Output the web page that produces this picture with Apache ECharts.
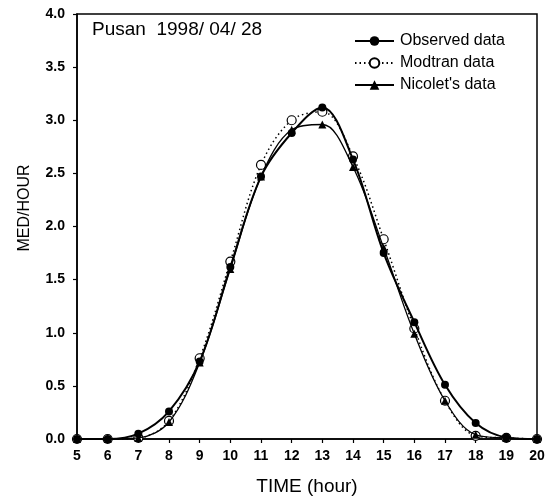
<!DOCTYPE html>
<html>
<head>
<meta charset="utf-8">
<script src="https://cdn.jsdelivr.net/npm/echarts@6/dist/echarts.min.js"></script>
<style>html,body{margin:0;padding:0;background:#fff;}#c{width:557px;height:498px;}</style>
</head>
<body>
<div id="c"></div>
<script>
var hours = [5,6,7,8,9,10,11,12,13,14,15,16,17,18,19,20];
var observed = [0,0,0.05,0.26,0.73,1.62,2.47,2.88,3.12,2.63,1.75,1.10,0.51,0.15,0.015,0];
var modtran  = [0,0,0.01,0.17,0.76,1.67,2.58,3.00,3.08,2.66,1.88,1.04,0.36,0.03,0.01,0];
var nicolet  = [0,0,0.01,0.16,0.72,1.60,2.47,2.91,2.96,2.56,1.80,0.99,0.36,0.04,0.01,0];
var yTicks = [0,0.5,1,1.5,2,2.5,3,3.5,4];
var seriesNames = ['Observed data','Modtran data',"Nicolet's data"];
var titleText = 'Pusan  1998/ 04/ 28';
var xTitle = 'TIME (hour)';
var yTitle = 'MED/HOUR';

function pairs(v){ return hours.map(function(h,i){ return [h, v[i]]; }); }

var font = 'Liberation Sans, Arial, Helvetica, sans-serif';
var chart = echarts.init(document.getElementById('c'), null, {renderer:'canvas'});
chart.setOption({
  animation:false,
  backgroundColor:'#fff',
  grid:{left:77,right:20,top:14,bottom:59,show:true,borderColor:'#000',borderWidth:1.5,backgroundColor:'transparent'},
  legend:{
    orient:'vertical', left:349, top:28, itemWidth:39, itemHeight:12, itemGap:6,
    textStyle:{fontFamily:font,fontSize:16,color:'#000',padding:[0,0,0,1]},
    data:seriesNames
  },
  xAxis:{
    type:'value', min:5, max:20, interval:1,
    axisLine:{lineStyle:{color:'#000',width:1.5}},
    axisTick:{show:true,inside:false,length:4,lineStyle:{color:'#000',width:1.2}},
    axisLabel:{fontFamily:font,fontSize:14,fontWeight:'bold',color:'#000',margin:10},
    splitLine:{show:false}
  },
  yAxis:{
    type:'value', min:yTicks[0], max:yTicks[yTicks.length-1], interval:0.5,
    axisLine:{show:true,lineStyle:{color:'#000',width:1.5}},
    axisTick:{show:true,inside:false,length:4,lineStyle:{color:'#000',width:1.2}},
    axisLabel:{fontFamily:font,fontSize:14,fontWeight:'bold',color:'#000',margin:12,formatter:function(v){return v.toFixed(1);}},
    splitLine:{show:false}
  },
  graphic:[
    {type:'text', left:92, top:20, style:{text:titleText, font:'19px '+font, fill:'#000'}},
    {type:'text', x:307, y:487, style:{text:xTitle, font:'19px '+font, fill:'#000', textAlign:'center', textVerticalAlign:'middle'}},
    {type:'text', x:25, y:208, rotation:Math.PI/2, style:{text:yTitle, font:'16px '+font, fill:'#000', textAlign:'center', textVerticalAlign:'middle'}}
  ],
  series:[
    {name:seriesNames[0], type:'line', data:pairs(observed), smooth:0.35, clip:false,
     symbol:'circle', symbolSize:8, itemStyle:{color:'#000'},
     lineStyle:{color:'#000',width:2}, z:4},
    {name:seriesNames[1], type:'line', data:pairs(modtran), smooth:0.35, clip:false,
     symbol:'circle', symbolSize:9, itemStyle:{color:'#fff',borderColor:'#000',borderWidth:1.2},
     lineStyle:{color:'#000',width:1.5,type:[1.5,3]}, z:2},
    {name:seriesNames[2], type:'line', data:pairs(nicolet), smooth:0.35, clip:false,
     symbol:'triangle', symbolSize:8, itemStyle:{color:'#000'},
     lineStyle:{color:'#000',width:1.3}, z:3}
  ]
});
</script>
</body>
</html>
